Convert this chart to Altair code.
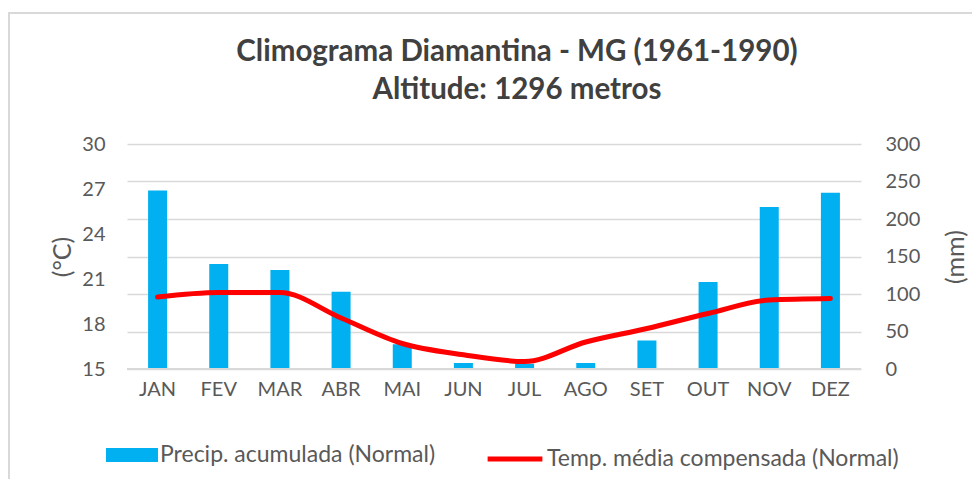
import altair as alt
import pandas as pd

months = ["JAN", "FEV", "MAR", "ABR", "MAI", "JUN", "JUL", "AGO", "SET", "OUT", "NOV", "DEZ"]
precip = [238, 140, 132, 103, 33, 8, 7, 8, 38, 116, 216, 235]
temp = [19.8, 20.1, 20.1, 18.4, 16.7, 15.95, 15.5, 16.8, 17.7, 18.7, 19.6, 19.7]
title_lines = ["Climograma Diamantina - MG (1961-1990)", "Altitude: 1296 metros"]
left_ticks = [15, 18, 21, 24, 27, 30]
right_ticks = [0, 50, 100, 150, 200, 250, 300]
s_prec = "Precip. acumulada (Normal)"
s_temp = "Temp. média compensada (Normal)"

df = pd.DataFrame({"mes": months, "precip": precip, "temp": temp,
                   "sp": [s_prec] * 12, "st": [s_temp] * 12})

FONT = "Lato"
GRAY = "#595959"
W, H = 734, 225

x = alt.X("mes:N", sort=months, title=None,
          scale=alt.Scale(paddingInner=0.69, paddingOuter=0.345),
          axis=alt.Axis(labelAngle=0, labelFontSize=20, labelColor=GRAY, labelFont=FONT,
                        ticks=False, domain=False, labelPadding=10, grid=False))

one = alt.Data(values=[{"k": 1}])

border = alt.Chart(one).mark_rect(fill=None, stroke="#D9D9D9", strokeWidth=2).encode(
    x=alt.value(-118), x2=alt.value(W + 140), y=alt.value(-131), y2=alt.value(H + 140)
)

title1 = alt.Chart(one).mark_text(text=title_lines[0], font=FONT, fontSize=29.5, fontWeight="bold",
                                  color="#404040", align="center", baseline="middle").encode(
    x=alt.value(390), y=alt.value(-92))
title2 = alt.Chart(one).mark_text(text=title_lines[1], font=FONT, fontSize=29.5, fontWeight="bold",
                                  color="#404040", align="center", baseline="middle").encode(
    x=alt.value(390), y=alt.value(-54))

bars = alt.Chart(df).mark_bar(size=19).encode(
    x=x,
    y=alt.Y("precip:Q", scale=alt.Scale(domain=[0, 300], nice=False),
            axis=alt.Axis(orient="right", values=right_ticks, title="(mm)", titleAngle=270,
                          titleX=94, titleY=H / 2, titleAlign="center", titleBaseline="middle",
                          titleFontSize=25, titleFont=FONT, titleColor=GRAY, titleFontWeight="normal",
                          labelFontSize=20, labelColor=GRAY, labelFont=FONT,
                          ticks=False, domain=False, grid=True, gridColor="#D9D9D9", gridWidth=1.5,
                          labelPadding=24)),
    color=alt.Color("sp:N", scale=alt.Scale(range=["#00B0F0"]),
                    legend=alt.Legend(title=None, orient="none", legendX=-21, legendY=285,
                                      symbolType="M-1,-0.27L1,-0.27L1,0.27L-1,0.27Z",
                                      symbolSize=2700, symbolStrokeWidth=0, labelLimit=0,
                                      labelFontSize=23, labelColor=GRAY, labelFont=FONT,
                                      labelOffset=2))
)

line = alt.Chart(df).mark_line(interpolate="monotone", strokeWidth=5, strokeCap="round").encode(
    x=x,
    y=alt.Y("temp:Q", scale=alt.Scale(domain=[15, 30], nice=False),
            axis=alt.Axis(orient="left", values=left_ticks, title="(°C)",
                          titleX=-65, titleY=H / 2, titleAlign="center", titleBaseline="middle",
                          titleFontSize=25, titleFont=FONT, titleColor=GRAY, titleFontWeight="normal",
                          labelFontSize=20, labelColor=GRAY, labelFont=FONT,
                          ticks=False, domain=False, grid=False,
                          labelPadding=22)),
    stroke=alt.Stroke("st:N", scale=alt.Scale(range=["#FF0000"]),
                      legend=alt.Legend(title=None, orient="none", legendX=358, legendY=285,
                                        symbolType="stroke", symbolSize=3000, symbolStrokeWidth=5,
                                        labelLimit=0,
                                        labelFontSize=23, labelColor=GRAY, labelFont=FONT,
                                        labelOffset=2))
)

baseline = alt.Chart(df).mark_rule(color="#D9D9D9", strokeWidth=1.5).encode(
    y=alt.value(H), x=alt.value(0), x2=alt.value(W)
)

chart = alt.layer(border, title1, title2, bars, baseline, line).resolve_scale(
    y="independent", color="independent", stroke="independent"
).properties(
    width=W, height=H,
    padding={"left": 119, "top": 136, "right": 111, "bottom": 110},
    autosize=alt.AutoSizeParams(type="none"),
    background="white"
).configure_view(stroke=None)

chart.save("out.html", embed_options={"renderer": "svg", "actions": False})
